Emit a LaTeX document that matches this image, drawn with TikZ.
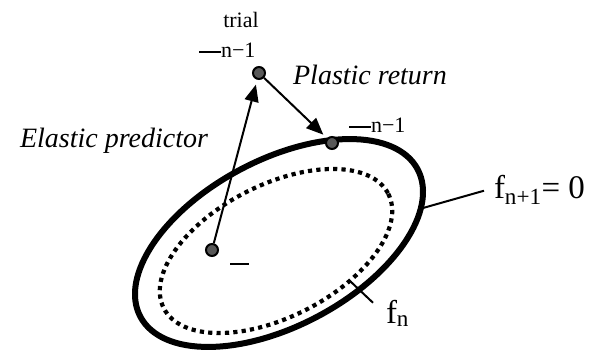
\documentclass[tikz,border=0pt]{standalone}
\usepackage{fontspec}
\setmainfont{Liberation Serif}
\usetikzlibrary{arrows.meta}
\definecolor{ptgray}{RGB}{88,88,88}

\begin{document}
\begin{tikzpicture}[x=1pt,y=-1pt,line width=2pt,
  state/.style={circle,draw=black,fill=ptgray,line width=2pt,inner sep=0pt,minimum size=12pt},
  move/.style={-{Triangle[length=17pt,width=14pt]},shorten >=5pt},
  surf/.style={line width=6pt},
  prev/.style={line width=4.2pt,dash pattern=on 4.2pt off 4.2pt},
  lbl/.style={font=\fontsize{22}{24}\selectfont,inner sep=0pt},
  big/.style={font=\fontsize{33}{38}\selectfont,inner sep=0pt},
  steptag/.style={font=\fontsize{28}{32}\selectfont\itshape,inner sep=0pt}]
  \useasboundingbox (0,0) rectangle (592,351);
  % yield surfaces
  \draw[prev, rotate around={27:(276,251)}] (276,251) ellipse [x radius=126, y radius=66];
  \draw[surf, rotate around={28:(279,243)}] (279,243) ellipse [x radius=157, y radius=83];
  % states
  \node[state] (sig0) at (212,250) {};
  \node[state] (trial) at (259,73) {};
  \node[state] (ret) at (332,143) {};
  \draw[move] (sig0) -- (trial);
  \draw[move] (trial) -- (ret);
  % labels
  \node[lbl] (tr) at (241,20) {trial};
  \node[lbl,anchor=base west] (ntr) at (198,57) {\rule[4pt]{22pt}{1.8pt}n−1};
  \node[lbl,anchor=base west] (nret) at (348,132) {\rule[4pt]{22pt}{1.8pt}n−1};
  \node[inner sep=0pt] (bar0) at (239.5,264) {\rule{19pt}{1.8pt}};
  \node[steptag,anchor=base] (plast) at (370,84) {Plastic return};
  \node[steptag,anchor=base] (elast) at (114,147) {Elastic predictor};
  \coordinate (onf) at (423,208);
  \coordinate (onfn) at (350,281);
  \node[big,anchor=base west] (fnew) at (493,198) {f\textsubscript{n+1}= 0};
  \node[big,anchor=base west] (fold) at (385,323) {f\textsubscript{n}};
  \draw (onf) -- ([xshift=-9pt,yshift=-1pt]fnew.west);
  \draw (onfn) -- ([xshift=-12pt,yshift=-4pt]fold.north west);
\end{tikzpicture}
\end{document}
